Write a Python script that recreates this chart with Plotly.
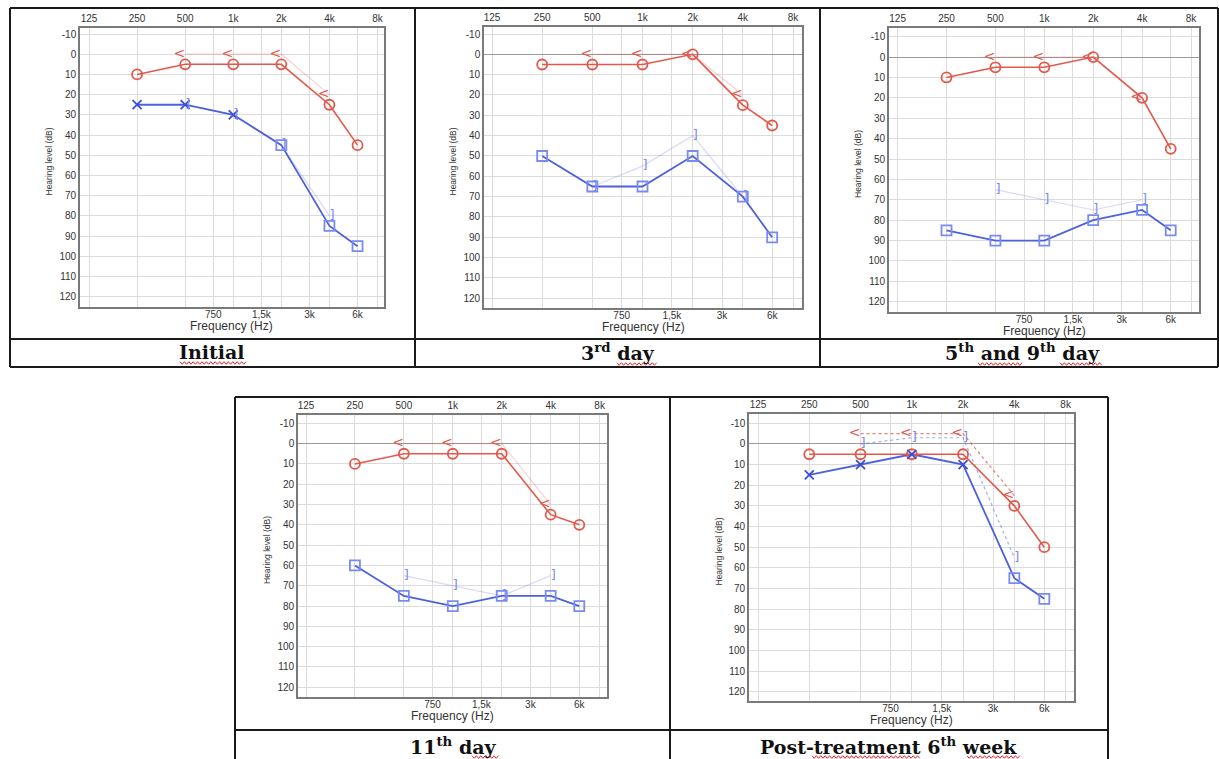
import math
import plotly.graph_objects as go

W, H = 1219, 759

# ---------------- data ----------------
freqs = [250, 500, 1000, 2000, 4000, 6000]
bc_freqs = [500, 1000, 2000, 4000]

titles = ["Initial", "3<sup>rd</sup> day", "5<sup>th</sup> and 9<sup>th</sup> day",
          "11<sup>th</sup> day", "Post-treatment 6<sup>th</sup> week"]

right_ac = [
    [10, 5, 5, 5, 25, 45],
    [5, 5, 5, 0, 25, 35],
    [10, 5, 5, 0, 20, 45],
    [10, 5, 5, 5, 35, 40],
    [5, 5, 5, 5, 30, 50],
]
right_bc = [
    [0, 0, 0, 20],
    [0, 0, 0, 20],
    [0, 0, 0, 20],
    [0, 0, 0, 30],
    [-5, -5, -5, 25],
]
left_ac = [
    [25, 25, 30, 45, 85, 95],
    [50, 65, 65, 50, 70, 90],
    [85, 90, 90, 80, 75, 85],
    [60, 75, 80, 75, 75, 80],
    [15, 10, 5, 10, 65, 75],
]
# 1 = masked (square), 0 = unmasked (X)
left_masked = [
    [0, 0, 0, 1, 1, 1],
    [1, 1, 1, 1, 1, 1],
    [1, 1, 1, 1, 1, 1],
    [1, 1, 1, 1, 1, 1],
    [0, 0, 0, 0, 1, 1],
]
left_bc = [
    [25, 30, 45, 80],
    [65, 55, 40, 70],
    [65, 70, 75, 70],
    [65, 70, 75, 65],
    [0, -3, -3, 55],
]

top_tick_vals = [125, 250, 500, 1000, 2000, 4000, 8000]
top_tick_text = ["125", "250", "500", "1k", "2k", "4k", "8k"]
bottom_tick_vals = [750, 1500, 3000, 6000]
bottom_tick_text = ["750", "1,5k", "3k", "6k"]
db_ticks = list(range(-10, 130, 10))

# ---------------- geometry (pixels) ----------------
geom = [
    dict(l=80, r=384, t=28, b=307, x125=89, x8k=377.5, ym10=34, y120=296.7),
    dict(l=484, r=802, t=27, b=308, x125=492, x8k=793, ym10=34, y120=298.3),
    dict(l=889, r=1199, t=28, b=312, x125=897.6, x8k=1191, ym10=36.7, y120=301.7),
    dict(l=298, r=607, t=415, b=697, x125=306, x8k=599.6, ym10=423.3, y120=687.3),
    dict(l=749, r=1074, t=414, b=701, x125=758, x8k=1065.6, ym10=423.3, y120=691.7),
]
caption_pos = [(211, 352), (618, 352), (1022, 352), (453, 746), (888, 746)]

RED = "#E4584C"
BLUE_LINE = "#4D60DE"
BLUE_X = "#3A4ED6"
BLUE_SQ = "#7A8BF0"
GRID = "#DCDCDC"
FONT = "Liberation Sans"

fig = go.Figure()
layout = {}
annotations = []
shapes = []


def px(x):
    return x / W


def py(y):
    return 1 - y / H


for i in range(5):
    g = geom[i]
    xb = f"x{i + 1}"
    xt = f"x{i + 6}"
    yy = f"y{i + 1}"
    k = (math.log10(8000) - math.log10(125)) / (g["x8k"] - g["x125"])
    xr = [math.log10(125) - (g["x125"] - g["l"]) * k,
          math.log10(8000) + (g["r"] - g["x8k"]) * k]
    v = 130 / (g["y120"] - g["ym10"])
    yr = [120 + (g["b"] - g["y120"]) * v, -10 - (g["ym10"] - g["t"]) * v]
    dom_x = [px(g["l"]), px(g["r"])]
    dom_y = [py(g["b"]), py(g["t"])]

    layout[f"xaxis{i + 1}"] = dict(
        type="log", range=xr, domain=dom_x, anchor=yy,
        tickmode="array", tickvals=bottom_tick_vals, ticktext=bottom_tick_text,
        showgrid=True, gridcolor=GRID, gridwidth=1, ticks="",
        showline=True, linecolor="#7a7a7a", linewidth=1.6, mirror=True,
        ticklabelstandoff=-3,
        tickfont=dict(family=FONT, size=10, color="#333"),
        zeroline=False, fixedrange=True,
    )
    layout[f"xaxis{i + 6}"] = dict(
        type="log", range=xr, domain=dom_x, anchor=yy, overlaying=xb, side="top",
        tickmode="array", tickvals=top_tick_vals, ticktext=top_tick_text,
        showgrid=True, gridcolor=GRID, gridwidth=1,
        ticks="", showline=False, ticklabelstandoff=3,
        tickfont=dict(family=FONT, size=10, color="#333"),
        zeroline=False, fixedrange=True,
    )
    layout[f"yaxis{i + 1}"] = dict(
        range=yr, domain=dom_y, anchor=xb,
        tickmode="array", tickvals=db_ticks, ticktext=[str(t) for t in db_ticks],
        showgrid=True, gridcolor=GRID, gridwidth=1, ticks="",
        showline=True, linecolor="#7a7a7a", linewidth=1.6, mirror=True,
        zeroline=(i > 0), zerolinecolor="#9a9a9a", zerolinewidth=1.3,
        tickfont=dict(family=FONT, size=10, color="#333"), fixedrange=True,
    )

    # top-axis carrier (draws the octave grid and labels)
    fig.add_trace(go.Scatter(
        x=top_tick_vals, y=[None] * len(top_tick_vals), mode="lines",
        xaxis=xt, yaxis=yy, hoverinfo="skip", showlegend=False))

    dotted = (i == 4)
    fig.add_trace(go.Scatter(
        x=bc_freqs, y=right_bc[i], mode="lines", xaxis=xb, yaxis=yy,
        line=dict(color=RED, width=1.2, dash="dot" if dotted else "solid"),
        opacity=0.75 if dotted else 0.25, hoverinfo="skip", showlegend=False))
    fig.add_trace(go.Scatter(
        x=bc_freqs, y=left_bc[i], mode="lines", xaxis=xb, yaxis=yy,
        line=dict(color=BLUE_LINE, width=1.2, dash="dot" if dotted else "solid"),
        opacity=0.5 if dotted else 0.22, hoverinfo="skip", showlegend=False))

    fig.add_trace(go.Scatter(
        x=freqs, y=left_ac[i], mode="lines", xaxis=xb, yaxis=yy,
        line=dict(color=BLUE_LINE, width=1.8), hoverinfo="skip", showlegend=False))
    fig.add_trace(go.Scatter(
        x=freqs, y=right_ac[i], mode="lines+markers", xaxis=xb, yaxis=yy,
        line=dict(color=RED, width=1.6),
        marker=dict(symbol="circle-open", size=10, color=RED, line=dict(width=1.8, color=RED)),
        showlegend=False))
    xs_x = [f for f, m in zip(freqs, left_masked[i]) if m == 0]
    ys_x = [d for d, m in zip(left_ac[i], left_masked[i]) if m == 0]
    xs_s = [f for f, m in zip(freqs, left_masked[i]) if m == 1]
    ys_s = [d for d, m in zip(left_ac[i], left_masked[i]) if m == 1]
    if xs_x:
        fig.add_trace(go.Scatter(
            x=xs_x, y=ys_x, mode="markers", xaxis=xb, yaxis=yy,
            marker=dict(symbol="x-thin-open", size=9, color=BLUE_X,
                        line=dict(width=1.8, color=BLUE_X)), showlegend=False))
    if xs_s:
        fig.add_trace(go.Scatter(
            x=xs_s, y=ys_s, mode="markers", xaxis=xb, yaxis=yy,
            marker=dict(symbol="square-open", size=10, color=BLUE_SQ,
                        line=dict(width=1.8, color=BLUE_SQ)), showlegend=False))
    fig.add_trace(go.Scatter(
        x=bc_freqs, y=right_bc[i], mode="text", text=["<"] * len(bc_freqs),
        textposition="middle left", xaxis=xb, yaxis=yy,
        textfont=dict(family="DejaVu Sans", size=14, color=RED),
        hoverinfo="skip", showlegend=False))
    fig.add_trace(go.Scatter(
        x=bc_freqs, y=left_bc[i], mode="text", text=["]"] * len(bc_freqs),
        textposition="middle right", xaxis=xb, yaxis=yy,
        textfont=dict(family="DejaVu Sans", size=13, color=BLUE_SQ),
        hoverinfo="skip", showlegend=False))

    annotations.append(dict(
        text="Hearing level (dB)", textangle=-90, x=px(g["l"] - 31),
        y=py((g["t"] + g["b"]) / 2 - 6), xref="paper", yref="paper",
        xanchor="center", yanchor="middle",
        showarrow=False, font=dict(family=FONT, size=8.5, color="#333")))
    annotations.append(dict(
        text="Frequency (Hz)", x=px((g["l"] + g["r"]) / 2), y=py(g["b"] + 19),
        xref="paper", yref="paper", showarrow=False,
        xanchor="center", yanchor="middle",
        font=dict(family=FONT, size=12, color="#333")))
    cx, cy = caption_pos[i]
    annotations.append(dict(
        text="<b>" + titles[i] + "</b>", x=px(cx), y=py(cy), xref="paper", yref="paper",
        showarrow=False, font=dict(family="DejaVu Serif", size=19, color="#111"),
        xanchor="center", yanchor="middle"))


def hline(x0, x1, y, w=2):
    shapes.append(dict(type="line", xref="paper", yref="paper",
                       x0=px(x0), x1=px(x1), y0=py(y), y1=py(y),
                       line=dict(color="#1a1a1a", width=w)))


def vline(x, y0, y1, w=2):
    shapes.append(dict(type="line", xref="paper", yref="paper",
                       x0=px(x), x1=px(x), y0=py(y0), y1=py(y1),
                       line=dict(color="#1a1a1a", width=w)))


hline(10, 1218, 8)
hline(10, 1218, 339)
hline(10, 1218, 367)
for xv in (10, 415, 820, 1218):
    vline(xv, 8, 367)
hline(235, 1108, 397)
hline(235, 1108, 730)
for xv in (235, 670, 1108):
    vline(xv, 397, 759)


def squiggle(x0, x1, y, amp=1.3, step=2.2):
    pts = []
    x = x0
    up = True
    while x <= x1:
        pts.append((x, y - amp if up else y + amp))
        up = not up
        x += step
    path = "M " + " L ".join(f"{px(a):.5f},{py(b):.5f}" for a, b in pts)
    shapes.append(dict(type="path", xref="paper", yref="paper", path=path,
                       line=dict(color="#E02828", width=1)))


squiggle(180, 247, 363)
squiggle(617, 657, 364)
squiggle(978, 1023, 364)
squiggle(1060, 1103, 364)
squiggle(472, 500, 757)
squiggle(812, 920, 757)
squiggle(967, 1020, 757)

fig.update_layout(
    width=W, height=H, margin=dict(l=0, r=0, t=0, b=0),
    paper_bgcolor="white", plot_bgcolor="white",
    annotations=annotations, shapes=shapes, showlegend=False,
    **layout,
)
fig.write_html("out.html", config={"displayModeBar": False},
               post_script="document.body.style.margin='0';document.body.style.overflow='hidden';")
